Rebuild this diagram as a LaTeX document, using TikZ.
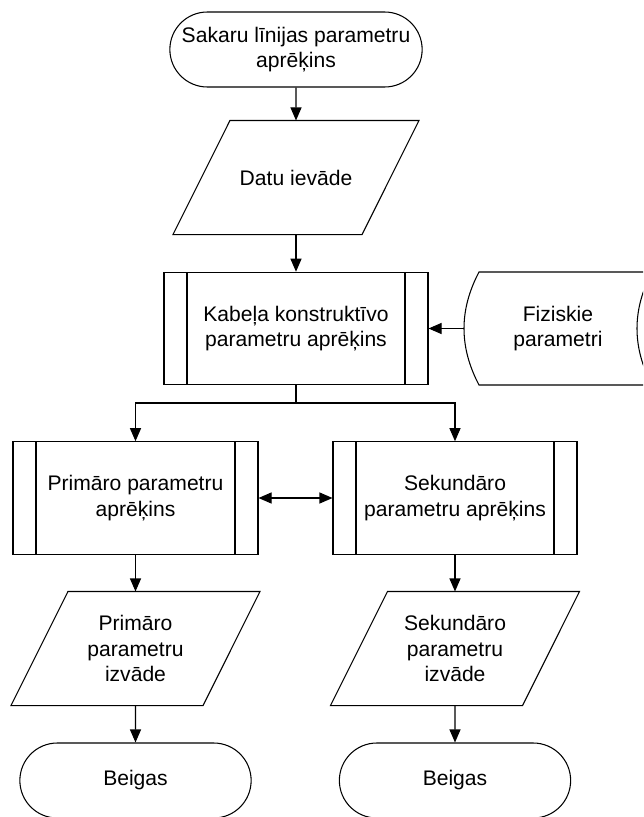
\documentclass[tikz,border=0pt]{standalone}
\usepackage{fontspec}
\setmainfont{Liberation Sans}
\usetikzlibrary{arrows.meta,shapes.misc}

\tikzset{
  flow/.style={-{Triangle[length=0.26cm,width=0.22cm]}},
  terminal/.style={draw, rounded rectangle, minimum width=#1, minimum height=1.5cm, align=center},
  inout/.style={rectangle, minimum width=#1, minimum height=2.26cm, align=center, inner sep=1pt},
  subproc/.style={draw, rectangle, minimum width=#1, minimum height=2.25cm, align=center,
    path picture={
      \draw ([xshift=0.46cm]path picture bounding box.north west) -- ([xshift=0.46cm]path picture bounding box.south west);
      \draw ([xshift=-0.46cm]path picture bounding box.north east) -- ([xshift=-0.46cm]path picture bounding box.south east);
    }},
}
% parallelogram round an inout node
\newcommand{\slantbox}[1]{%
  \draw ([xshift=0.57cm]#1.north west) -- ([xshift=0.57cm]#1.north east)
    -- ([xshift=-0.57cm]#1.south east) -- ([xshift=-0.57cm]#1.south west) -- cycle;}

\begin{document}
\begin{tikzpicture}[line width=0.6pt, font=\fontsize{12}{14.5}\selectfont]
\useasboundingbox (0,0) rectangle (12.86,-16.34);
\clip (0,0) rectangle (12.86,-16.34);
% start
\node[terminal=5.28cm] (start) at (5.92,-0.99) {Sakaru līnijas parametru\\aprēķins};
% input
\node[inout=3.76cm] (datu) at (5.92,-3.55) {Datu ievāde};
\slantbox{datu}
% cable geometry
\node[subproc=5.28cm] (kab) at (5.92,-6.57) {Kabeļa konstruktīvo\\parametru aprēķins};
% stored data, cut by the right edge
\draw (9.58,-5.44) -- (13.04,-5.44) .. controls (12.64,-6.2) and (12.64,-6.94) .. (13.04,-7.70)
  -- (9.58,-7.70) .. controls (9.18,-6.94) and (9.18,-6.2) .. cycle;
\node[align=center] (fiz) at (11.16,-6.57) {Fiziskie\\parametri};
\coordinate (fizin) at (9.28,-6.57);
% two calculations
\coordinate (split) at (5.92,-8.06);
\node[subproc=4.9cm] (prim) at (2.71,-9.96) {Primāro parametru\\aprēķins};
\node[subproc=4.88cm] (sek) at (9.10,-9.96) {Sekundāro\\parametru aprēķins};
% outputs
\node[inout=3.82cm] (primout) at (2.71,-12.97) {Primāro\\parametru\\izvāde};
\slantbox{primout}
\node[inout=3.82cm] (sekout) at (9.10,-12.97) {Sekundāro\\parametru\\izvāde};
\slantbox{sekout}
% ends
\node[terminal=4.86cm] (end1) at (2.71,-15.61) {Beigas};
\node[terminal=4.86cm] (end2) at (9.10,-15.61) {Beigas};
% connectors
\draw[flow] (start) -- (datu);
\draw[flow] (datu) -- (kab);
\draw[flow] (fizin) -- (kab.east);
\draw (kab) -- (split);
\draw[flow] (split) -| (prim.north);
\draw[flow] (split) -| (sek.north);
\draw[{Triangle[length=0.26cm,width=0.22cm]}-{Triangle[length=0.26cm,width=0.22cm]}] (prim) -- (sek);
\draw[flow] (prim) -- (primout);
\draw[flow] (sek) -- (sekout);
\draw[flow] (primout) -- (end1);
\draw[flow] (sekout) -- (end2);
\end{tikzpicture}
\end{document}
